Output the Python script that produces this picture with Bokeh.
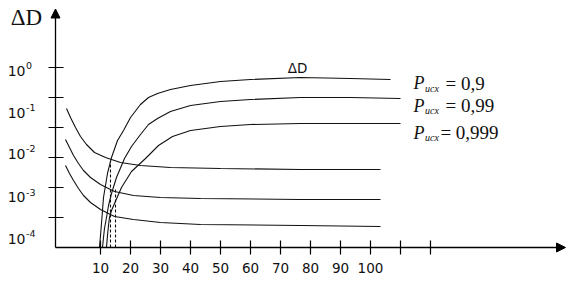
from bokeh.plotting import figure
from bokeh.models import Range1d, Arrow, NormalHead
from bokeh.core.properties import value
from bokeh.embed import file_html
from bokeh.resources import INLINE

# ---- data (x in chart units, y in decade-tick units) ----
x_ticks = [10, 20, 30, 40, 50, 60, 70, 80, 90, 100, 110, 120]
x_tick_labels = ["10", "20", "30", "40", "50", "60", "70", "80", "90", "100"]
x_label_vals = [10, 20, 30, 40, 50, 60, 70, 80, 90, 100]
y_ticks = [1, 2, 3, 4, 5, 6]
y_label_pos = [5.9, 4.5, 3.13, 1.67, 0.3]
y_label_exp = ["0", "-1", "-2", "-3", "-4"]

# decreasing curves
dec_x = [-1.67, -0.33, 1.0, 2.67, 4.33, 6.67, 10.0, 14.67, 21.0, 30.0, 43.33, 76.67, 103.33]
dec_top_x = [-1.33, 0.0, 1.67, 3.33, 5.33, 8.0, 11.67, 16.67, 23.33, 33.33, 50.0, 76.67, 103.33]
dec_top_y = [4.633, 4.333, 4.0, 3.7, 3.433, 3.167, 3.0, 2.833, 2.733, 2.667, 2.633, 2.6, 2.6]
dec_mid_y = [3.6, 3.333, 3.067, 2.8, 2.567, 2.333, 2.1, 1.867, 1.733, 1.667, 1.633, 1.6, 1.6]
dec_bot_y = [2.733, 2.467, 2.233, 1.967, 1.733, 1.5, 1.267, 1.033, 0.933, 0.833, 0.767, 0.733, 0.7]

# increasing curves (P = 0.9, 0.99, 0.999)
inc_a_x = [9.67, 10, 10.33, 11, 12.33, 13.67, 15.67, 17.67, 20, 23.33, 26, 29, 33.33, 40, 50, 60, 76.67, 93.33, 106.67]
inc_a_y = [0, 0.4, 0.8, 1.667, 2.467, 3.0, 3.567, 3.9, 4.333, 4.767, 5.0, 5.133, 5.267, 5.4, 5.533, 5.6, 5.667, 5.633, 5.6]
inc_b_x = [10.67, 11, 11.33, 12, 12.67, 13.67, 15.33, 18, 20.33, 23.33, 26, 29, 33.33, 40, 50, 60, 76.67, 93.33, 110]
inc_b_y = [0, 0.333, 0.633, 1.0, 1.4, 1.8, 2.333, 2.967, 3.367, 3.767, 4.1, 4.3, 4.533, 4.733, 4.867, 4.933, 5.0, 5.0, 4.967]
inc_c_x = [12, 12.33, 12.67, 13, 13.67, 14.67, 17, 20.33, 25, 29.33, 34, 40, 50, 60, 76.67, 93.33, 110]
inc_c_y = [0, 0.4, 0.733, 1.0, 1.233, 1.467, 2.0, 2.533, 2.967, 3.4, 3.7, 3.9, 4.033, 4.1, 4.133, 4.133, 4.133]

# dashed drop lines at intersections
drop_x = [13.33, 15.0]
drop_top = [2.87, 1.93]

legend_vals = ["= 0,9", "= 0,99", "= 0,999"]
legend_y = [5.467, 4.733, 3.833]

# ---- figure: 3 px per x unit, 30 px per y unit ----
W, H = 568, 279
p = figure(width=W, height=H, output_backend="svg", toolbar_location=None,
           x_range=Range1d(-70 / 3, (W - 70) / 3), y_range=Range1d((247 - H) / 30, 247 / 30),
           min_border=0, outline_line_color=None, background_fill_color="white")
p.axis.visible = False
p.grid.visible = False

lc = "#111111"
# axes with arrows
p.add_layout(Arrow(x_start=-5, y_start=0, x_end=-5, y_end=7.95, line_color="black", line_width=1.3,
                   end=NormalHead(size=9, fill_color="black", line_color="black")))
p.add_layout(Arrow(x_start=-5, y_start=0, x_end=165, y_end=0, line_color="black", line_width=1.3,
                   end=NormalHead(size=9, fill_color="black", line_color="black")))

# ticks
p.segment(x0=x_ticks, y0=[0.233] * len(x_ticks), x1=x_ticks, y1=[-0.233] * len(x_ticks),
          line_color="black", line_width=1.2)
p.segment(x0=[-7.33] * len(y_ticks), y0=y_ticks, x1=[-2.33] * len(y_ticks), y1=y_ticks,
          line_color="black", line_width=1.2)

sans = value("DejaVu Sans")
serif = value("Liberation Serif")

# x tick labels
p.text(x=x_label_vals, y=[-0.667] * len(x_label_vals), text=x_tick_labels, text_font=sans,
       text_font_size=value("13.5px"), text_align="center", text_baseline="middle", text_color=lc)

# y tick labels: 10 with superscript exponents
p.text(x=[-15] * len(y_label_pos), y=y_label_pos, text=["10"] * len(y_label_pos), text_font=sans,
       text_font_size=value("14px"), text_align="right", text_baseline="middle", text_color=lc)
p.text(x=[-14.8] * len(y_label_pos), y=[v + 5 / 30 for v in y_label_pos], text=y_label_exp, text_font=sans,
       text_font_size=value("9.5px"), text_align="left", text_baseline="middle", text_color=lc)

# axis title
p.text(x=[-14.67], y=[7.68], text=["ΔD"], text_font=serif, text_font_size=value("23px"),
       text_align="center", text_baseline="middle", text_color=lc)

# curves
for yy in (dec_mid_y, dec_bot_y):
    p.line(dec_x, yy, line_color=lc, line_width=1.1)
p.line(dec_top_x, dec_top_y, line_color=lc, line_width=1.1)
for xx, yy in ((inc_a_x, inc_a_y), (inc_b_x, inc_b_y), (inc_c_x, inc_c_y)):
    p.line(xx, yy, line_color=lc, line_width=1.1)

p.segment(x0=drop_x, y0=[0] * len(drop_x), x1=drop_x, y1=drop_top, line_color=lc,
          line_width=1.1, line_dash="3 2")

# curve label
p.text(x=[75.67], y=[5.97], text=["ΔD"], text_font=sans, text_font_size=value("13.5px"),
       text_align="center", text_baseline="middle", text_color=lc)

# legend texts: P_исх = ...
p.text(x=[114.33] * 3, y=legend_y, text=["P"] * 3, text_font=serif, text_font_style="italic",
       text_font_size=value("18px"), text_align="left", text_baseline="alphabetic", text_color=lc)
p.text(x=[118.2] * 3, y=[v - 5 / 30 for v in legend_y], text=["исх"] * 3, text_font=serif,
       text_font_style="italic", text_font_size=value("10px"), text_align="left",
       text_baseline="alphabetic", text_color=lc)
p.text(x=[125, 125, 123.3], y=legend_y, text=legend_vals, text_font=serif,
       text_font_size=value("19px"), text_align="left", text_baseline="alphabetic", text_color=lc)

open("out.html", "w").write(file_html(p, INLINE))
